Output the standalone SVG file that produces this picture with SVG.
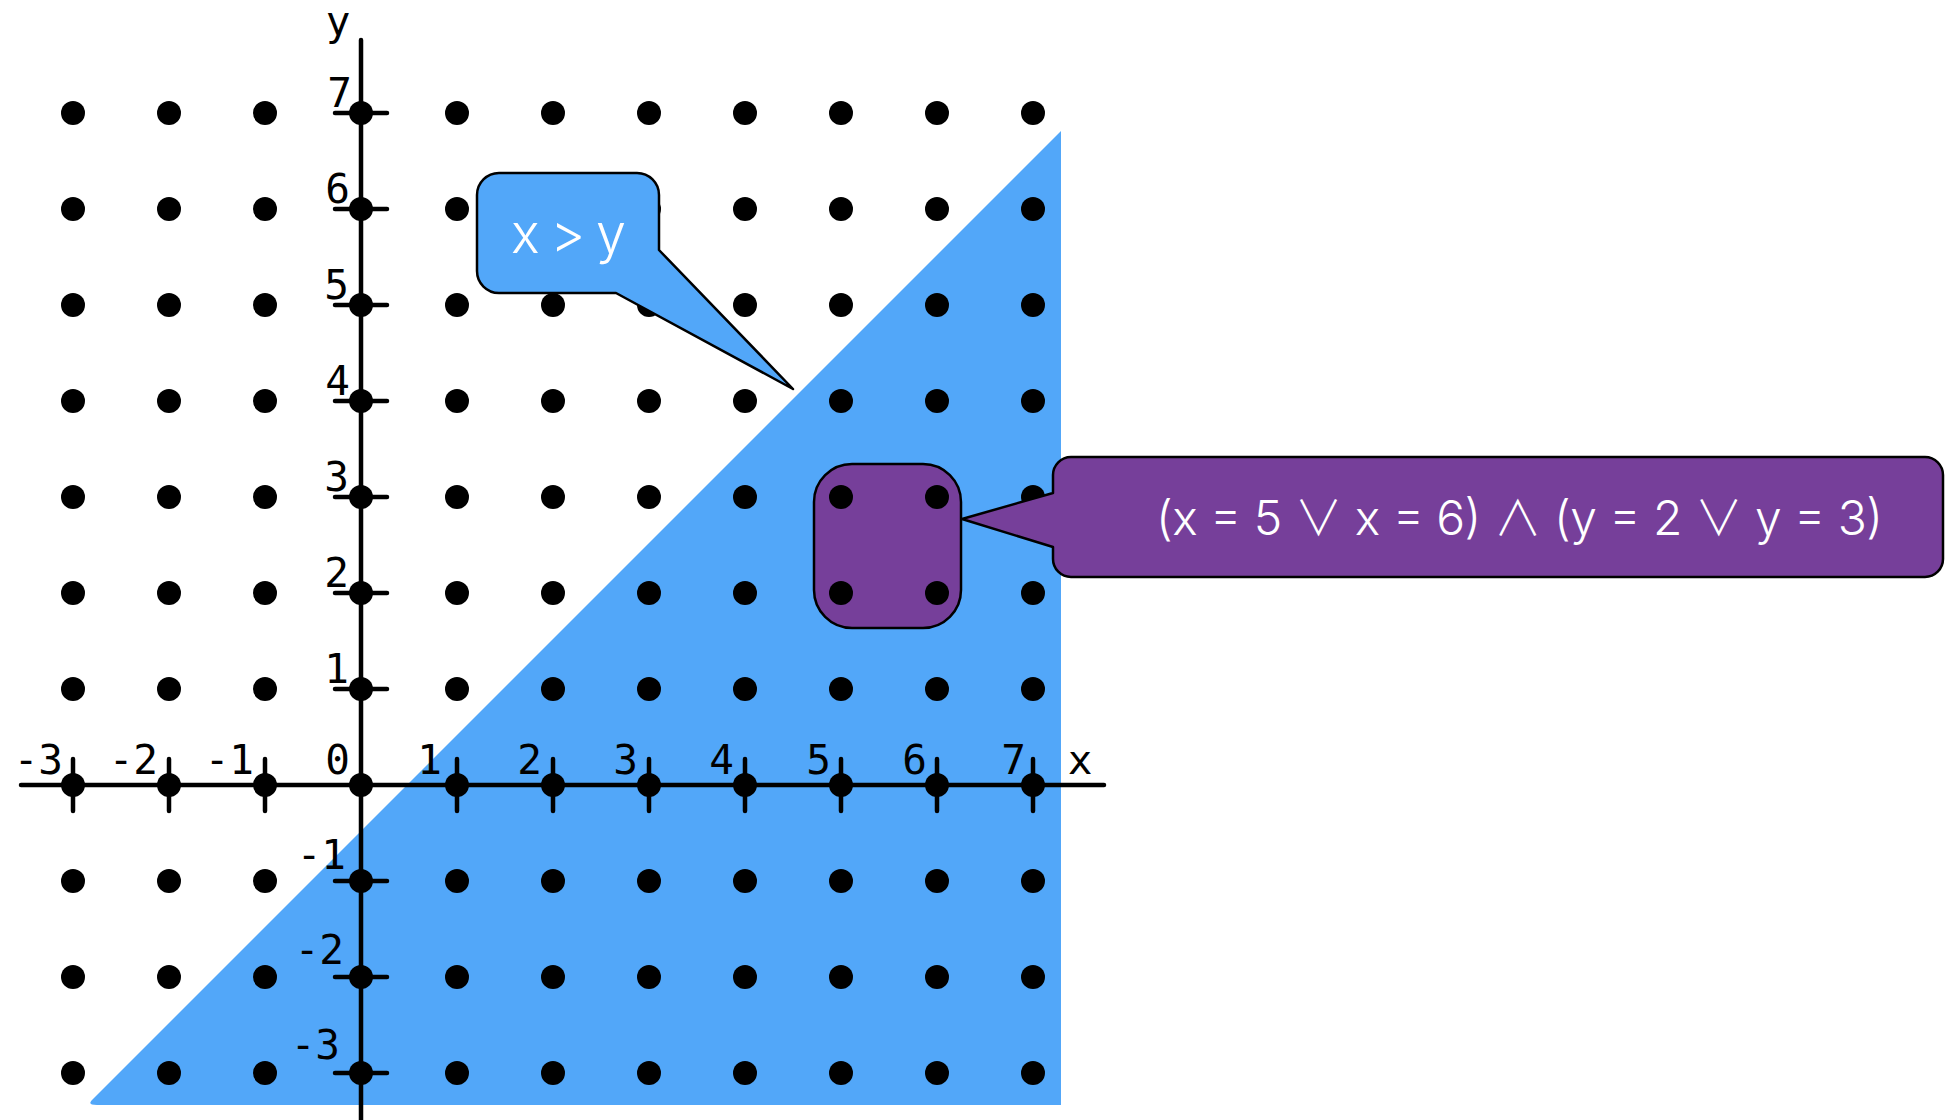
<svg xmlns="http://www.w3.org/2000/svg" width="1953" height="1120" viewBox="0 0 1953 1120">
<style>
.dot{fill:#000}
.ax{stroke:#000;stroke-width:4.5;stroke-linecap:round;fill:none}
.tk{stroke:#000;stroke-width:4.5;stroke-linecap:round}
.lbl{font-family:"DejaVu Sans Mono",monospace;font-size:41px;fill:#000}
.cal{stroke:#000;stroke-width:2.5;stroke-linejoin:round}
.ct{font-family:Inter,"Liberation Sans","DejaVu Sans",sans-serif;font-weight:300;fill:#fff}
.op{font-family:"Noto Sans CJK JP","DejaVu Sans",sans-serif;font-weight:300}
</style>
<rect width="1953" height="1120" fill="#fff"/>
<g id="region">
<path d="M1061,131 L1061,1105 L97,1105 Q86,1105 93,1099 Z" fill="#52A7F9"/>
</g>
<g id="selection">
<rect x="814" y="464" width="147" height="164" rx="38" ry="38" fill="#763F9A" class="cal"/>
</g>
<g id="dots">
<g transform="translate(0,113)"><circle class="dot" cx="73" cy="0" r="12"/><circle class="dot" cx="169" cy="0" r="12"/><circle class="dot" cx="265" cy="0" r="12"/><circle class="dot" cx="361" cy="0" r="12"/><circle class="dot" cx="457" cy="0" r="12"/><circle class="dot" cx="553" cy="0" r="12"/><circle class="dot" cx="649" cy="0" r="12"/><circle class="dot" cx="745" cy="0" r="12"/><circle class="dot" cx="841" cy="0" r="12"/><circle class="dot" cx="937" cy="0" r="12"/><circle class="dot" cx="1033" cy="0" r="12"/></g>
<g transform="translate(0,209)"><circle class="dot" cx="73" cy="0" r="12"/><circle class="dot" cx="169" cy="0" r="12"/><circle class="dot" cx="265" cy="0" r="12"/><circle class="dot" cx="361" cy="0" r="12"/><circle class="dot" cx="457" cy="0" r="12"/><circle class="dot" cx="553" cy="0" r="12"/><circle class="dot" cx="649" cy="0" r="12"/><circle class="dot" cx="745" cy="0" r="12"/><circle class="dot" cx="841" cy="0" r="12"/><circle class="dot" cx="937" cy="0" r="12"/><circle class="dot" cx="1033" cy="0" r="12"/></g>
<g transform="translate(0,305)"><circle class="dot" cx="73" cy="0" r="12"/><circle class="dot" cx="169" cy="0" r="12"/><circle class="dot" cx="265" cy="0" r="12"/><circle class="dot" cx="361" cy="0" r="12"/><circle class="dot" cx="457" cy="0" r="12"/><circle class="dot" cx="553" cy="0" r="12"/><circle class="dot" cx="649" cy="0" r="12"/><circle class="dot" cx="745" cy="0" r="12"/><circle class="dot" cx="841" cy="0" r="12"/><circle class="dot" cx="937" cy="0" r="12"/><circle class="dot" cx="1033" cy="0" r="12"/></g>
<g transform="translate(0,401)"><circle class="dot" cx="73" cy="0" r="12"/><circle class="dot" cx="169" cy="0" r="12"/><circle class="dot" cx="265" cy="0" r="12"/><circle class="dot" cx="361" cy="0" r="12"/><circle class="dot" cx="457" cy="0" r="12"/><circle class="dot" cx="553" cy="0" r="12"/><circle class="dot" cx="649" cy="0" r="12"/><circle class="dot" cx="745" cy="0" r="12"/><circle class="dot" cx="841" cy="0" r="12"/><circle class="dot" cx="937" cy="0" r="12"/><circle class="dot" cx="1033" cy="0" r="12"/></g>
<g transform="translate(0,497)"><circle class="dot" cx="73" cy="0" r="12"/><circle class="dot" cx="169" cy="0" r="12"/><circle class="dot" cx="265" cy="0" r="12"/><circle class="dot" cx="361" cy="0" r="12"/><circle class="dot" cx="457" cy="0" r="12"/><circle class="dot" cx="553" cy="0" r="12"/><circle class="dot" cx="649" cy="0" r="12"/><circle class="dot" cx="745" cy="0" r="12"/><circle class="dot" cx="841" cy="0" r="12"/><circle class="dot" cx="937" cy="0" r="12"/><circle class="dot" cx="1033" cy="0" r="12"/></g>
<g transform="translate(0,593)"><circle class="dot" cx="73" cy="0" r="12"/><circle class="dot" cx="169" cy="0" r="12"/><circle class="dot" cx="265" cy="0" r="12"/><circle class="dot" cx="361" cy="0" r="12"/><circle class="dot" cx="457" cy="0" r="12"/><circle class="dot" cx="553" cy="0" r="12"/><circle class="dot" cx="649" cy="0" r="12"/><circle class="dot" cx="745" cy="0" r="12"/><circle class="dot" cx="841" cy="0" r="12"/><circle class="dot" cx="937" cy="0" r="12"/><circle class="dot" cx="1033" cy="0" r="12"/></g>
<g transform="translate(0,689)"><circle class="dot" cx="73" cy="0" r="12"/><circle class="dot" cx="169" cy="0" r="12"/><circle class="dot" cx="265" cy="0" r="12"/><circle class="dot" cx="361" cy="0" r="12"/><circle class="dot" cx="457" cy="0" r="12"/><circle class="dot" cx="553" cy="0" r="12"/><circle class="dot" cx="649" cy="0" r="12"/><circle class="dot" cx="745" cy="0" r="12"/><circle class="dot" cx="841" cy="0" r="12"/><circle class="dot" cx="937" cy="0" r="12"/><circle class="dot" cx="1033" cy="0" r="12"/></g>
<g transform="translate(0,785)"><circle class="dot" cx="73" cy="0" r="12"/><circle class="dot" cx="169" cy="0" r="12"/><circle class="dot" cx="265" cy="0" r="12"/><circle class="dot" cx="361" cy="0" r="12"/><circle class="dot" cx="457" cy="0" r="12"/><circle class="dot" cx="553" cy="0" r="12"/><circle class="dot" cx="649" cy="0" r="12"/><circle class="dot" cx="745" cy="0" r="12"/><circle class="dot" cx="841" cy="0" r="12"/><circle class="dot" cx="937" cy="0" r="12"/><circle class="dot" cx="1033" cy="0" r="12"/></g>
<g transform="translate(0,881)"><circle class="dot" cx="73" cy="0" r="12"/><circle class="dot" cx="169" cy="0" r="12"/><circle class="dot" cx="265" cy="0" r="12"/><circle class="dot" cx="361" cy="0" r="12"/><circle class="dot" cx="457" cy="0" r="12"/><circle class="dot" cx="553" cy="0" r="12"/><circle class="dot" cx="649" cy="0" r="12"/><circle class="dot" cx="745" cy="0" r="12"/><circle class="dot" cx="841" cy="0" r="12"/><circle class="dot" cx="937" cy="0" r="12"/><circle class="dot" cx="1033" cy="0" r="12"/></g>
<g transform="translate(0,977)"><circle class="dot" cx="73" cy="0" r="12"/><circle class="dot" cx="169" cy="0" r="12"/><circle class="dot" cx="265" cy="0" r="12"/><circle class="dot" cx="361" cy="0" r="12"/><circle class="dot" cx="457" cy="0" r="12"/><circle class="dot" cx="553" cy="0" r="12"/><circle class="dot" cx="649" cy="0" r="12"/><circle class="dot" cx="745" cy="0" r="12"/><circle class="dot" cx="841" cy="0" r="12"/><circle class="dot" cx="937" cy="0" r="12"/><circle class="dot" cx="1033" cy="0" r="12"/></g>
<g transform="translate(0,1073)"><circle class="dot" cx="73" cy="0" r="12"/><circle class="dot" cx="169" cy="0" r="12"/><circle class="dot" cx="265" cy="0" r="12"/><circle class="dot" cx="361" cy="0" r="12"/><circle class="dot" cx="457" cy="0" r="12"/><circle class="dot" cx="553" cy="0" r="12"/><circle class="dot" cx="649" cy="0" r="12"/><circle class="dot" cx="745" cy="0" r="12"/><circle class="dot" cx="841" cy="0" r="12"/><circle class="dot" cx="937" cy="0" r="12"/><circle class="dot" cx="1033" cy="0" r="12"/></g>
</g>
<g id="axes">
<line class="ax" x1="21" y1="785" x2="1104" y2="785"/>
<line class="ax" x1="361" y1="40" x2="361" y2="1125"/>
<g id="x-ticks">
<line class="tk" x1="73" y1="759" x2="73" y2="811"/><line class="tk" x1="169" y1="759" x2="169" y2="811"/><line class="tk" x1="265" y1="759" x2="265" y2="811"/><line class="tk" x1="457" y1="759" x2="457" y2="811"/><line class="tk" x1="553" y1="759" x2="553" y2="811"/><line class="tk" x1="649" y1="759" x2="649" y2="811"/><line class="tk" x1="745" y1="759" x2="745" y2="811"/><line class="tk" x1="841" y1="759" x2="841" y2="811"/><line class="tk" x1="937" y1="759" x2="937" y2="811"/><line class="tk" x1="1033" y1="759" x2="1033" y2="811"/>
</g>
<g id="y-ticks">
<line class="tk" x1="335" y1="113" x2="387" y2="113"/><line class="tk" x1="335" y1="209" x2="387" y2="209"/><line class="tk" x1="335" y1="305" x2="387" y2="305"/><line class="tk" x1="335" y1="401" x2="387" y2="401"/><line class="tk" x1="335" y1="497" x2="387" y2="497"/><line class="tk" x1="335" y1="593" x2="387" y2="593"/><line class="tk" x1="335" y1="689" x2="387" y2="689"/><line class="tk" x1="335" y1="881" x2="387" y2="881"/><line class="tk" x1="335" y1="977" x2="387" y2="977"/><line class="tk" x1="335" y1="1073" x2="387" y2="1073"/>
</g>
<g id="x-labels" class="lbl" text-anchor="end">
<text x="63" y="774">-3</text><text x="158" y="774">-2</text><text x="254" y="774">-1</text><text x="350" y="774">0</text><text x="442" y="774">1</text><text x="542" y="774">2</text><text x="638" y="774">3</text><text x="734" y="774">4</text><text x="831" y="774">5</text><text x="927" y="774">6</text><text x="1026" y="774">7</text>
<text x="1080" y="774" text-anchor="middle">x</text>
</g>
<g id="y-labels" class="lbl" text-anchor="end">
<text x="352" y="107">7</text><text x="350" y="203">6</text><text x="349" y="299">5</text><text x="350" y="395">4</text><text x="349" y="491">3</text><text x="349" y="587">2</text><text x="349" y="683">1</text>
<text x="346" y="869">-1</text><text x="344" y="964">-2</text><text x="340" y="1059">-3</text>
<text x="338" y="35" text-anchor="middle">y</text>
</g>
</g>
<g id="callout-x-gt-y">
<path class="cal" fill="#52A7F9" d="M499,173 H637 A22,22 0 0 1 659,195 V250 L793,389 L616,293 H499 A22,22 0 0 1 477,271 V195 A22,22 0 0 1 499,173 Z"/>
<text class="ct" x="511" y="253" font-size="54" textLength="115" lengthAdjust="spacing">x &gt; y</text>
</g>
<g id="callout-selection">
<path class="cal" fill="#763F9A" d="M1071,457 H1925 A18,18 0 0 1 1943,475 V559 A18,18 0 0 1 1925,577 H1071 A18,18 0 0 1 1053,559 V547 L962,519 L1053,493 V475 A18,18 0 0 1 1071,457 Z"/>
<text class="ct" x="1156" y="535" font-size="48" textLength="727" lengthAdjust="spacing">(x = 5 <tspan class="op">∨</tspan> x = 6) <tspan class="op">∧</tspan> (y = 2 <tspan class="op">∨</tspan> y = 3)</text>
</g>
</svg>
